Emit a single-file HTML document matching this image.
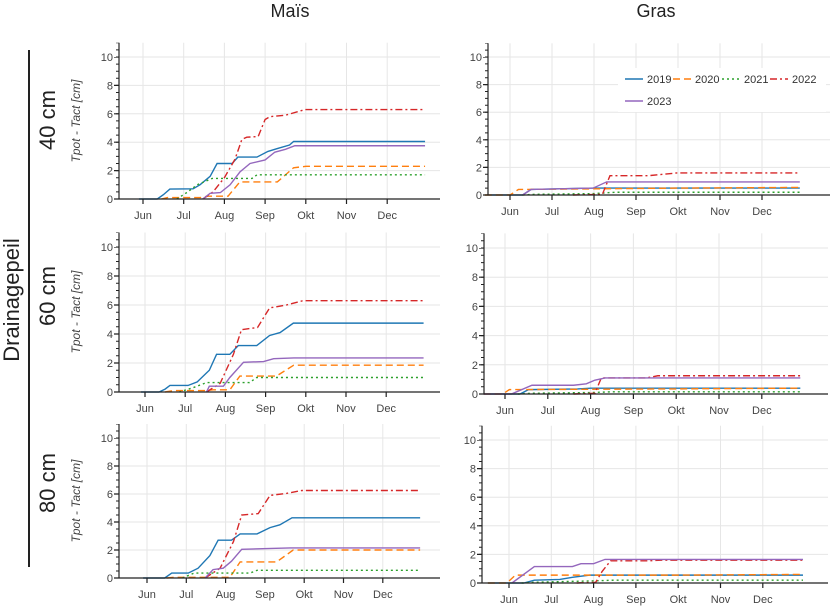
<!DOCTYPE html>
<html><head><meta charset="utf-8"><style>
body{margin:0;background:#fff;width:838px;height:608px;overflow:hidden}
svg{font-family:"Liberation Sans",sans-serif}
.s{fill:none;stroke-width:1.4;vector-effect:non-scaling-stroke}
.b{stroke:#1f77b4}.o{stroke:#ff7f0e;stroke-dasharray:7,4}.g{stroke:#2ca02c;stroke-dasharray:2,3}.r{stroke:#d62728;stroke-dasharray:7,3,2,3}.p{stroke:#9467bd}
.gr line{stroke:#e6e6e6;stroke-width:1}
.ax{stroke:#222;stroke-width:1.2}
.yl{font-size:11px;fill:#444;text-anchor:end}
.xl{font-size:11px;fill:#444;text-anchor:middle}
</style></head><body>
<svg width="838" height="608" xmlns="http://www.w3.org/2000/svg">
<text x="290" y="17" font-size="18" text-anchor="middle" fill="#222">Maïs</text>
<text x="656" y="17" font-size="18" text-anchor="middle" fill="#222">Gras</text>
<line x1="29" y1="50" x2="29" y2="567" stroke="#222" stroke-width="2"/>
<text transform="translate(19,300) rotate(-90)" font-size="22" text-anchor="middle" fill="#222">Drainagepeil</text>
<text transform="translate(55,120) rotate(-90)" font-size="22" text-anchor="middle" fill="#222">40 cm</text>
<text transform="translate(55,296) rotate(-90)" font-size="22" text-anchor="middle" fill="#222">60 cm</text>
<text transform="translate(55,483) rotate(-90)" font-size="22" text-anchor="middle" fill="#222">80 cm</text>

<!-- TL -->
<g class="gr"><line x1="119" x2="440" y1="199" y2="199"/><line x1="119" x2="440" y1="170.6" y2="170.6"/><line x1="119" x2="440" y1="142.2" y2="142.2"/><line x1="119" x2="440" y1="113.8" y2="113.8"/><line x1="119" x2="440" y1="85.4" y2="85.4"/><line x1="119" x2="440" y1="57" y2="57"/>
<line x1="143" x2="143" y1="42.8" y2="199"/><line x1="183.7" x2="183.7" y1="42.8" y2="199"/><line x1="224.4" x2="224.4" y1="42.8" y2="199"/><line x1="265.1" x2="265.1" y1="42.8" y2="199"/><line x1="305.8" x2="305.8" y1="42.8" y2="199"/><line x1="346.5" x2="346.5" y1="42.8" y2="199"/><line x1="387.2" x2="387.2" y1="42.8" y2="199"/></g>
<g transform="translate(143,199) scale(40.7,-14.2)">
<path class="s b" d="M-0.1,0L0.35,0L0.5,0.3L0.66,0.7L1.23,0.72L1.4,1L1.65,1.6L1.82,2.5L2.19,2.5L2.33,2.95L2.8,2.95L3.07,3.35L3.3,3.55L3.6,3.8L3.7,4.05L6.93,4.05"/>
<path class="s o" d="M0.45,0L0.6,0.1L1.4,0.1L1.6,0.2L2.09,0.2L2.38,1.2L3.3,1.2L3.7,2.2L4,2.3L6.93,2.3"/>
<path class="s g" d="M0.83,0L1.1,0.5L1.33,1L1.7,1.45L2.68,1.45L2.8,1.7L6.93,1.7"/>
<path class="s r" d="M1.47,0L1.72,0.5L2,1.5L2.26,2.8L2.43,4.2L2.55,4.35L2.83,4.4L3,5.6L3.12,5.8L3.5,5.9L3.98,6.3L6.93,6.3"/>
<path class="s p" d="M1.47,0L1.65,0.4L1.9,0.45L2.14,1L2.38,1.9L2.63,2.5L3,2.75L3.24,3.3L3.5,3.5L3.73,3.75L6.93,3.75"/>
</g>
<line class="ax" x1="119" x2="440" y1="199" y2="199"/><line class="ax" x1="119" x2="119" y1="42.8" y2="199"/>
<line x1="116.5" x2="116.5" y1="199.6" y2="57" stroke="#222" stroke-width="5" stroke-dasharray="1.2,27.2"/>
<line x1="117.5" x2="117.5" y1="199.5" y2="42.8" stroke="#222" stroke-width="3" stroke-dasharray="1,6.1"/>
<line x1="142.4" x2="390" y1="201.5" y2="201.5" stroke="#222" stroke-width="5" stroke-dasharray="1.2,39.5"/>
<text class="yl" x="113" y="203">0</text><text class="yl" x="113" y="174.6">2</text><text class="yl" x="113" y="146.2">4</text><text class="yl" x="113" y="117.8">6</text><text class="yl" x="113" y="89.4">8</text><text class="yl" x="113" y="61">10</text>
<text class="xl" x="143" y="219">Jun</text><text class="xl" x="183.7" y="219">Jul</text><text class="xl" x="224.4" y="219">Aug</text><text class="xl" x="265.1" y="219">Sep</text><text class="xl" x="305.8" y="219">Okt</text><text class="xl" x="346.5" y="219">Nov</text><text class="xl" x="387.2" y="219">Dec</text>
<text transform="translate(80,121) rotate(-90)" font-size="12" font-style="italic" text-anchor="middle" fill="#444">Tpot - Tact [cm]</text>

<!-- ML -->
<g class="gr"><line x1="119" x2="440" y1="392" y2="392"/><line x1="119" x2="440" y1="363" y2="363"/><line x1="119" x2="440" y1="334" y2="334"/><line x1="119" x2="440" y1="305" y2="305"/><line x1="119" x2="440" y1="276" y2="276"/><line x1="119" x2="440" y1="247" y2="247"/>
<line x1="145" x2="145" y1="232.5" y2="392"/><line x1="185.2" x2="185.2" y1="232.5" y2="392"/><line x1="225.4" x2="225.4" y1="232.5" y2="392"/><line x1="265.6" x2="265.6" y1="232.5" y2="392"/><line x1="305.8" x2="305.8" y1="232.5" y2="392"/><line x1="346" x2="346" y1="232.5" y2="392"/><line x1="386.2" x2="386.2" y1="232.5" y2="392"/></g>
<g transform="translate(145,392) scale(40.2,-14.5)">
<path class="s b" d="M-0.1,0L0.35,0L0.5,0.2L0.62,0.45L1.07,0.45L1.3,0.7L1.6,1.5L1.78,2.6L2.11,2.6L2.32,3.2L2.78,3.2L3.1,3.9L3.36,4.1L3.69,4.75L6.93,4.75"/>
<path class="s o" d="M0.5,0L0.7,0.1L1.5,0.1L1.7,0.15L2.11,0.15L2.36,1.1L3.27,1.1L3.7,1.85L6.93,1.85"/>
<path class="s g" d="M0.85,0L1.2,0.3L1.53,0.65L2.6,0.65L2.78,1L6.93,1"/>
<path class="s r" d="M1.53,0L1.87,0.6L2.2,2.6L2.4,4.3L2.8,4.45L3.1,5.8L3.52,6L3.93,6.3L6.93,6.3"/>
<path class="s p" d="M1.53,0L1.6,0.4L1.95,0.4L2.11,1L2.45,2.05L2.95,2.1L3.2,2.3L3.7,2.35L6.93,2.35"/>
</g>
<line class="ax" x1="119" x2="440" y1="392" y2="392"/><line class="ax" x1="119" x2="119" y1="232.5" y2="392"/>
<line x1="116.5" x2="116.5" y1="392.6" y2="247" stroke="#222" stroke-width="5" stroke-dasharray="1.2,27.8"/>
<line x1="117.5" x2="117.5" y1="392.5" y2="232.5" stroke="#222" stroke-width="3" stroke-dasharray="1,6.25"/>
<line x1="144.4" x2="390" y1="394.5" y2="394.5" stroke="#222" stroke-width="5" stroke-dasharray="1.2,39"/>
<text class="yl" x="113" y="396">0</text><text class="yl" x="113" y="367">2</text><text class="yl" x="113" y="338">4</text><text class="yl" x="113" y="309">6</text><text class="yl" x="113" y="280">8</text><text class="yl" x="113" y="251">10</text>
<text class="xl" x="145" y="412">Jun</text><text class="xl" x="185.2" y="412">Jul</text><text class="xl" x="225.4" y="412">Aug</text><text class="xl" x="265.6" y="412">Sep</text><text class="xl" x="305.8" y="412">Okt</text><text class="xl" x="346" y="412">Nov</text><text class="xl" x="386.2" y="412">Dec</text>
<text transform="translate(80,312) rotate(-90)" font-size="12" font-style="italic" text-anchor="middle" fill="#444">Tpot - Tact [cm]</text>

<!-- BL -->
<g class="gr"><line x1="119" x2="440" y1="578" y2="578"/><line x1="119" x2="440" y1="550" y2="550"/><line x1="119" x2="440" y1="522" y2="522"/><line x1="119" x2="440" y1="494" y2="494"/><line x1="119" x2="440" y1="466" y2="466"/><line x1="119" x2="440" y1="438" y2="438"/>
<line x1="147" x2="147" y1="424" y2="578"/><line x1="186.3" x2="186.3" y1="424" y2="578"/><line x1="225.6" x2="225.6" y1="424" y2="578"/><line x1="264.9" x2="264.9" y1="424" y2="578"/><line x1="304.2" x2="304.2" y1="424" y2="578"/><line x1="343.5" x2="343.5" y1="424" y2="578"/><line x1="382.8" x2="382.8" y1="424" y2="578"/></g>
<g transform="translate(147,578) scale(39.3,-14)">
<path class="s b" d="M-0.1,0L0.45,0L0.63,0.35L1.05,0.35L1.3,0.7L1.6,1.6L1.81,2.7L2.15,2.7L2.37,3.15L2.8,3.15L3.13,3.6L3.38,3.8L3.69,4.3L6.95,4.3"/>
<path class="s o" d="M0.5,0L0.7,0.05L2.11,0.05L2.37,1.15L3.3,1.15L3.72,2L6.95,2"/>
<path class="s g" d="M0.9,0L1.2,0.35L2.62,0.35L2.8,0.55L6.95,0.55"/>
<path class="s r" d="M1.48,0L1.86,0.7L2.2,2.6L2.41,4.5L2.83,4.6L3.13,5.9L3.56,6.05L3.94,6.25L6.95,6.25"/>
<path class="s p" d="M1.48,0L1.68,0.6L1.94,0.7L2.15,1.2L2.41,2.05L3.05,2.1L3.64,2.15L6.95,2.15"/>
</g>
<line class="ax" x1="119" x2="440" y1="578" y2="578"/><line class="ax" x1="119" x2="119" y1="424" y2="578"/>
<line x1="116.5" x2="116.5" y1="578.6" y2="438" stroke="#222" stroke-width="5" stroke-dasharray="1.2,26.8"/>
<line x1="117.5" x2="117.5" y1="578.5" y2="424" stroke="#222" stroke-width="3" stroke-dasharray="1,6"/>
<line x1="146.4" x2="390" y1="580.5" y2="580.5" stroke="#222" stroke-width="5" stroke-dasharray="1.2,38.1"/>
<text class="yl" x="113" y="582">0</text><text class="yl" x="113" y="554">2</text><text class="yl" x="113" y="526">4</text><text class="yl" x="113" y="498">6</text><text class="yl" x="113" y="470">8</text><text class="yl" x="113" y="442">10</text>
<text class="xl" x="147" y="598">Jun</text><text class="xl" x="186.3" y="598">Jul</text><text class="xl" x="225.6" y="598">Aug</text><text class="xl" x="264.9" y="598">Sep</text><text class="xl" x="304.2" y="598">Okt</text><text class="xl" x="343.5" y="598">Nov</text><text class="xl" x="382.8" y="598">Dec</text>
<text transform="translate(80,501) rotate(-90)" font-size="12" font-style="italic" text-anchor="middle" fill="#444">Tpot - Tact [cm]</text>

<!-- TR -->
<g class="gr"><line x1="488" x2="830" y1="195" y2="195"/><line x1="488" x2="830" y1="167.4" y2="167.4"/><line x1="488" x2="830" y1="139.8" y2="139.8"/><line x1="488" x2="830" y1="112.2" y2="112.2"/><line x1="488" x2="830" y1="84.6" y2="84.6"/><line x1="488" x2="830" y1="57" y2="57"/>
<line x1="510" x2="510" y1="43.2" y2="195"/><line x1="552" x2="552" y1="43.2" y2="195"/><line x1="594" x2="594" y1="43.2" y2="195"/><line x1="636" x2="636" y1="43.2" y2="195"/><line x1="678" x2="678" y1="43.2" y2="195"/><line x1="720" x2="720" y1="43.2" y2="195"/><line x1="762" x2="762" y1="43.2" y2="195"/></g>
<g transform="translate(510,195) scale(42,-13.8)">
<path class="s b" d="M-0.6,0L0.3,0L0.5,0.4L2,0.5L6.9,0.5"/>
<path class="s o" d="M-0.6,0L0,0L0.2,0.4L4,0.5L6.9,0.55"/>
<path class="s g" d="M0.3,0L0.6,0.05L2,0.1L2.5,0.2L6.9,0.2"/>
<path class="s r" d="M1.5,0L2.2,0.05L2.38,1.4L3.3,1.4L3.98,1.6L6.9,1.6"/>
<path class="s p" d="M0.3,0L0.5,0.4L1.98,0.5L2.3,0.95L6.9,0.95"/>
</g>
<line class="ax" x1="488" x2="830" y1="195" y2="195"/><line class="ax" x1="488" x2="488" y1="43.2" y2="195"/>
<line x1="485.5" x2="485.5" y1="195.6" y2="57" stroke="#222" stroke-width="5" stroke-dasharray="1.2,26.4"/>
<line x1="486.5" x2="486.5" y1="195.5" y2="43.2" stroke="#222" stroke-width="3" stroke-dasharray="1,5.9"/>
<line x1="509.4" x2="765" y1="197.5" y2="197.5" stroke="#222" stroke-width="5" stroke-dasharray="1.2,40.8"/>
<text class="yl" x="482" y="199">0</text><text class="yl" x="482" y="171.4">2</text><text class="yl" x="482" y="143.8">4</text><text class="yl" x="482" y="116.2">6</text><text class="yl" x="482" y="88.6">8</text><text class="yl" x="482" y="61">10</text>
<text class="xl" x="510" y="215">Jun</text><text class="xl" x="552" y="215">Jul</text><text class="xl" x="594" y="215">Aug</text><text class="xl" x="636" y="215">Sep</text><text class="xl" x="678" y="215">Okt</text><text class="xl" x="720" y="215">Nov</text><text class="xl" x="762" y="215">Dec</text>
<rect x="618" y="68" width="208" height="44" fill="#fff"/>
<line class="s b" x1="625" x2="643" y1="79" y2="79"/><text x="647" y="83" font-size="11" fill="#333">2019</text>
<line class="s o" x1="673" x2="691" y1="79" y2="79"/><text x="695" y="83" font-size="11" fill="#333">2020</text>
<line class="s g" x1="722" x2="740" y1="79" y2="79"/><text x="744" y="83" font-size="11" fill="#333">2021</text>
<line class="s r" x1="770" x2="788" y1="79" y2="79"/><text x="792" y="83" font-size="11" fill="#333">2022</text>
<line class="s p" x1="625" x2="643" y1="101" y2="101"/><text x="647" y="105" font-size="11" fill="#333">2023</text>

<!-- MR -->
<g class="gr"><line x1="484" x2="828" y1="394" y2="394"/><line x1="484" x2="828" y1="364.8" y2="364.8"/><line x1="484" x2="828" y1="335.6" y2="335.6"/><line x1="484" x2="828" y1="306.4" y2="306.4"/><line x1="484" x2="828" y1="277.2" y2="277.2"/><line x1="484" x2="828" y1="248" y2="248"/>
<line x1="505" x2="505" y1="233.4" y2="394"/><line x1="547.8" x2="547.8" y1="233.4" y2="394"/><line x1="590.6" x2="590.6" y1="233.4" y2="394"/><line x1="633.4" x2="633.4" y1="233.4" y2="394"/><line x1="676.2" x2="676.2" y1="233.4" y2="394"/><line x1="719" x2="719" y1="233.4" y2="394"/><line x1="761.8" x2="761.8" y1="233.4" y2="394"/></g>
<g transform="translate(505,394) scale(42.8,-14.6)">
<path class="s b" d="M-0.5,0L0.35,0L0.55,0.3L1.7,0.35L2,0.4L6.9,0.4"/>
<path class="s o" d="M-0.5,0L-0.05,0L0.1,0.3L4,0.35L6.9,0.4"/>
<path class="s g" d="M0.3,0L0.6,0.05L2,0.1L2.5,0.15L6.9,0.15"/>
<path class="s r" d="M1.6,0L2.1,0.05L2.25,1.1L3.3,1.1L3.57,1.25L6.9,1.25"/>
<path class="s p" d="M-0.5,0L0.15,0L0.63,0.6L1.6,0.6L1.9,0.7L2.1,0.95L2.34,1.1L6.9,1.1"/>
</g>
<line class="ax" x1="484" x2="828" y1="394" y2="394"/><line class="ax" x1="484" x2="484" y1="233.4" y2="394"/>
<line x1="481.5" x2="481.5" y1="394.6" y2="248" stroke="#222" stroke-width="5" stroke-dasharray="1.2,28"/>
<line x1="482.5" x2="482.5" y1="394.5" y2="233.4" stroke="#222" stroke-width="3" stroke-dasharray="1,6.3"/>
<line x1="504.4" x2="765" y1="396.5" y2="396.5" stroke="#222" stroke-width="5" stroke-dasharray="1.2,41.6"/>
<text class="yl" x="478" y="398">0</text><text class="yl" x="478" y="368.8">2</text><text class="yl" x="478" y="339.6">4</text><text class="yl" x="478" y="310.4">6</text><text class="yl" x="478" y="281.2">8</text><text class="yl" x="478" y="252">10</text>
<text class="xl" x="505" y="414">Jun</text><text class="xl" x="547.8" y="414">Jul</text><text class="xl" x="590.6" y="414">Aug</text><text class="xl" x="633.4" y="414">Sep</text><text class="xl" x="676.2" y="414">Okt</text><text class="xl" x="719" y="414">Nov</text><text class="xl" x="761.8" y="414">Dec</text>

<!-- BR -->
<g class="gr"><line x1="482" x2="828" y1="583" y2="583"/><line x1="482" x2="828" y1="554.4" y2="554.4"/><line x1="482" x2="828" y1="525.8" y2="525.8"/><line x1="482" x2="828" y1="497.2" y2="497.2"/><line x1="482" x2="828" y1="468.6" y2="468.6"/><line x1="482" x2="828" y1="440" y2="440"/>
<line x1="509" x2="509" y1="425.7" y2="583"/><line x1="551.3" x2="551.3" y1="425.7" y2="583"/><line x1="593.6" x2="593.6" y1="425.7" y2="583"/><line x1="635.9" x2="635.9" y1="425.7" y2="583"/><line x1="678.2" x2="678.2" y1="425.7" y2="583"/><line x1="720.5" x2="720.5" y1="425.7" y2="583"/><line x1="762.8" x2="762.8" y1="425.7" y2="583"/></g>
<g transform="translate(509,583) scale(42.3,-14.3)">
<path class="s b" d="M-0.5,0L0.35,0L0.6,0.2L1.2,0.25L1.5,0.4L1.9,0.55L6.95,0.55"/>
<path class="s o" d="M-0.5,0L-0.05,0L0.15,0.55L4,0.55L6.95,0.6"/>
<path class="s g" d="M0.3,0L0.6,0.05L2,0.15L2.5,0.2L6.95,0.2"/>
<path class="s r" d="M1.6,0L2.05,0.05L2.2,0.8L2.4,1.55L3.3,1.55L3.6,1.6L6.95,1.6"/>
<path class="s p" d="M0.07,0L0.6,1.15L1.5,1.15L1.7,1.35L2,1.35L2.27,1.65L6.95,1.65"/>
</g>
<line class="ax" x1="482" x2="828" y1="583" y2="583"/><line class="ax" x1="482" x2="482" y1="425.7" y2="583"/>
<line x1="479.5" x2="479.5" y1="583.6" y2="440" stroke="#222" stroke-width="5" stroke-dasharray="1.2,27.4"/>
<line x1="480.5" x2="480.5" y1="583.5" y2="425.7" stroke="#222" stroke-width="3" stroke-dasharray="1,6.15"/>
<line x1="508.4" x2="766" y1="585.5" y2="585.5" stroke="#222" stroke-width="5" stroke-dasharray="1.2,41.1"/>
<text class="yl" x="476" y="587">0</text><text class="yl" x="476" y="558.4">2</text><text class="yl" x="476" y="529.8">4</text><text class="yl" x="476" y="501.2">6</text><text class="yl" x="476" y="472.6">8</text><text class="yl" x="476" y="444">10</text>
<text class="xl" x="509" y="603">Jun</text><text class="xl" x="551.3" y="603">Jul</text><text class="xl" x="593.6" y="603">Aug</text><text class="xl" x="635.9" y="603">Sep</text><text class="xl" x="678.2" y="603">Okt</text><text class="xl" x="720.5" y="603">Nov</text><text class="xl" x="762.8" y="603">Dec</text>
</svg>
</body></html>
